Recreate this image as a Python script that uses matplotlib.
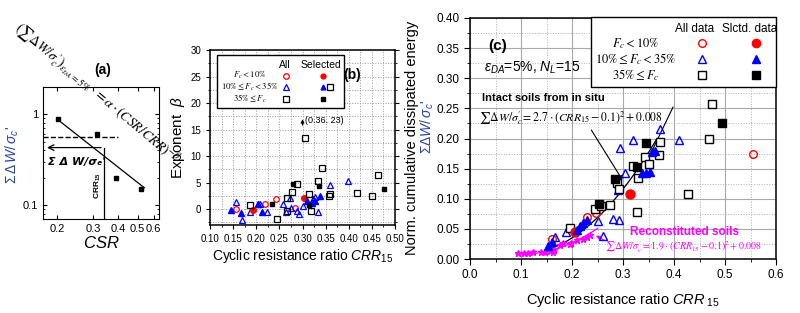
import numpy as np
import matplotlib
matplotlib.use('Agg')
import matplotlib.pyplot as plt
from matplotlib.patches import Rectangle
from matplotlib.ticker import MultipleLocator, FixedLocator, NullFormatter, FormatStrFormatter

plt.rcParams['font.family'] = ['Liberation Sans', 'DejaVu Sans']
plt.rcParams['mathtext.fontset'] = 'custom'
plt.rcParams['mathtext.rm'] = 'Liberation Sans'
plt.rcParams['mathtext.it'] = 'Liberation Sans:italic'
plt.rcParams['mathtext.bf'] = 'Liberation Sans:bold'

RED = '#ff0000'
BLUE = '#0000ff'
MAG = '#ff00ff'
LBLUE = '#2845a0'

# ---- (a) one test, log-log
a_csr = [0.202, 0.313, 0.39, 0.52]
a_w = [0.89, 0.60, 0.20, 0.15]
a_fit_csr = [0.20, 0.54]
a_fit_w = [0.88, 0.155]
a_dash_w = 0.56
a_w15 = 0.43
a_crr15 = 0.34

# ---- (b) exponent beta vs CRR15
b_fc10_x = [0.157, 0.218, 0.243, 0.284]
b_fc10_y = [0.0, 1.0, 1.9, 0.3]
b_fc10s_x = [0.194, 0.304]
b_fc10s_y = [-0.1, 2.1]
b_fc35_x = [0.157, 0.170, 0.186, 0.204, 0.209, 0.224, 0.257, 0.264, 0.274, 0.276,
            0.287, 0.292, 0.301, 0.322, 0.328, 0.333, 0.359, 0.398]
b_fc35_y = [1.4, -2.1, -0.5, 0.9, 1.0, -0.5, 0.9, -0.6, 2.1, 0.3,
            -0.4, -0.9, 0.6, 2.0, 2.2, -0.6, 4.6, 5.4]
b_fc35s_x = [0.145, 0.167, 0.203, 0.212, 0.309, 0.320, 0.326, 0.338]
b_fc35s_y = [-0.2, -0.7, 0.9, -0.5, 1.5, 1.2, 1.6, 2.5]
b_fc100_x = [0.186, 0.244, 0.267, 0.267, 0.277, 0.287, 0.305, 0.315, 0.319, 0.333,
             0.343, 0.357, 0.359, 0.417, 0.450, 0.463, 0.36]
b_fc100_y = [0.7, -1.8, -0.4, 2.1, 3.2, 4.8, 13.4, 2.8, -0.4, 5.3,
             7.8, 2.4, 2.9, 3.0, 2.5, 6.4, 23.0]
b_fc100s_x = [0.235, 0.279, 0.313, 0.335, 0.477]
b_fc100s_y = [1.0, 4.8, 0.85, 4.4, 3.8]

# ---- (c) normalized energy vs CRR15
c_fc10_x = [0.160, 0.229, 0.248, 0.554]
c_fc10_y = [0.033, 0.070, 0.077, 0.175]
c_fc10s_x = [0.206, 0.313]
c_fc10s_y = [0.045, 0.108]
c_fc35_x = [0.167, 0.188, 0.250, 0.260, 0.281, 0.293, 0.291, 0.304, 0.294, 0.320, 0.373, 0.410]
c_fc35_y = [0.036, 0.045, 0.063, 0.039, 0.066, 0.065, 0.114, 0.143, 0.185, 0.197, 0.215, 0.197]
c_fc35s_x = [0.153, 0.160, 0.209, 0.216, 0.222, 0.229, 0.337, 0.346, 0.352, 0.356, 0.363]
c_fc35s_y = [0.022, 0.029, 0.048, 0.054, 0.059, 0.064, 0.142, 0.142, 0.145, 0.178, 0.180]
c_fc100_x = [0.196, 0.245, 0.257, 0.275, 0.288, 0.293, 0.320, 0.327, 0.330, 0.343, 0.350,
             0.371, 0.373, 0.428, 0.469, 0.474]
c_fc100_y = [0.051, 0.083, 0.088, 0.090, 0.126, 0.116, 0.154, 0.078, 0.134, 0.170, 0.158,
             0.172, 0.194, 0.108, 0.200, 0.257]
c_fc100s_x = [0.253, 0.284, 0.327, 0.345, 0.495]
c_fc100s_y = [0.091, 0.132, 0.152, 0.193, 0.226]
c_rec_x = [0.095, 0.105, 0.114, 0.124, 0.140, 0.147, 0.157, 0.163, 0.165, 0.176, 0.183,
           0.196, 0.199, 0.209, 0.222, 0.229, 0.235]
c_rec_y = [0.0095, 0.0095, 0.010, 0.011, 0.012, 0.012, 0.014, 0.012, 0.015, 0.023, 0.026,
           0.025, 0.027, 0.031, 0.034, 0.036, 0.040]
intact_k, intact_range = 2.7, (0.15, 0.365)
recon_k, recon_range = 1.9, (0.09, 0.25)

fig = plt.figure(figsize=(8, 3.13), dpi=100)

# ================= (a)
axa = fig.add_axes([0.054, 0.300, 0.145, 0.422])
axa.set_xscale('log')
axa.set_yscale('log')
axa.set_xlim(0.17, 0.64)
axa.set_ylim(0.07, 2.0)
axa.plot(a_csr, a_w, 's', color='black', ms=3.5)
axa.plot(a_fit_csr, a_fit_w, '-', color='black', lw=0.9)
axa.plot([0.17, 0.40], [a_dash_w, a_dash_w], '--', color='black', lw=1.0)
axa.plot([a_crr15, a_crr15], [a_w15, 0.07], '-', color='black', lw=0.9)
axa.annotate('', xy=(0.172, a_w15), xytext=(a_crr15, a_w15),
             arrowprops=dict(arrowstyle='->', lw=0.9, color='black'))
axa.xaxis.set_major_locator(FixedLocator([0.2, 0.3, 0.4, 0.5, 0.6]))
axa.xaxis.set_major_formatter(FormatStrFormatter('%g'))
axa.xaxis.set_minor_formatter(NullFormatter())
axa.yaxis.set_major_locator(FixedLocator([0.1, 1]))
axa.yaxis.set_major_formatter(FormatStrFormatter('%g'))
axa.yaxis.set_minor_formatter(NullFormatter())
axa.tick_params(which='both', direction='in', top=True, right=True, labelsize=8)
axa.tick_params(which='major', length=3)
axa.tick_params(which='minor', length=1.5)
axa.set_xlabel('$CSR$', fontsize=12, labelpad=1)
axa.text(0.04, 0.41, "Σ Δ W/σₑ'", transform=axa.transAxes, fontsize=8,
         fontweight='bold', style='italic', family=['DejaVu Sans'])
axa.text(0.47, 0.25, r'$\mathbf{CRR_{15}}$', transform=axa.transAxes, fontsize=6,
         rotation=90, ha='center', va='center')
fig.text(103 / 800, 1 - 70 / 313, '(a)', fontsize=10, fontweight='bold', ha='center', va='center')
fig.text(12 / 800, 1 - 155 / 313, r"$\Sigma\,\Delta\,W/\,\sigma_c$'", fontsize=10, color=LBLUE,
         rotation=90, ha='center', va='center')
fig.text(96 / 800, 1 - 94 / 313,
         r"$(\sum\Delta W/\sigma_c^{\prime})_{\varepsilon_{DA}=5\%}\ \ =\alpha\cdot(CSR/CRR)^{-\beta}$",
         fontsize=10, rotation=-40, ha='center', va='center', math_fontfamily='stix')

# ================= (b)
axb = fig.add_axes([0.2625, 0.281, 0.2313, 0.559])
axb.set_xlim(0.10, 0.50)
axb.set_ylim(-3, 30)
axb.xaxis.set_major_locator(MultipleLocator(0.05))
axb.xaxis.set_minor_locator(MultipleLocator(0.025))
axb.xaxis.set_major_formatter(FormatStrFormatter('%.2f'))
axb.yaxis.set_major_locator(MultipleLocator(5))
axb.yaxis.set_minor_locator(MultipleLocator(2.5))
axb.grid(which='both', color='#9a9a9a', ls=':', lw=0.7)
axb.set_axisbelow(True)
axb.tick_params(which='both', direction='out', labelsize=7, right=True)
axb.tick_params(which='major', length=3)
axb.tick_params(which='minor', length=1.5)
for s in axb.spines.values():
    s.set_linewidth(1.1)
ms_b = 4
axb.plot(b_fc10_x, b_fc10_y, 'o', mfc='none', mec=RED, ms=ms_b, mew=0.9, zorder=3)
axb.plot(b_fc35_x, b_fc35_y, '^', mfc='none', mec=BLUE, ms=ms_b, mew=0.9, zorder=3)
axb.plot(b_fc100_x, b_fc100_y, 's', mfc='none', mec='black', ms=ms_b, mew=0.9, zorder=7)
axb.plot(b_fc10s_x, b_fc10s_y, 'o', color=RED, ms=ms_b, zorder=4)
axb.plot(b_fc35s_x, b_fc35s_y, '^', color=BLUE, ms=ms_b, zorder=4)
axb.plot(b_fc100s_x, b_fc100s_y, 's', color='black', ms=ms_b - 0.5, zorder=4)
axb.annotate('', xy=(0.30, 17.5), xytext=(0.30, 15.3),
             arrowprops=dict(arrowstyle='-|>', lw=0.8, color='black', mutation_scale=5))
axb.text(0.305, 16.8, '(0.36. 23)', fontsize=6.5, va='center')
axb.set_xlabel('Cyclic resistance ratio $CRR_{15}$', fontsize=10, labelpad=2)
axb.set_ylabel(r'Exponent  $\beta$', fontsize=11, labelpad=2)
axb.text(0.77, 0.855, '(b)', transform=axb.transAxes, fontsize=10, fontweight='bold',
         ha='center', va='center')
# legend box
axb.add_patch(Rectangle((0.037, 0.669), 0.685, 0.302, transform=axb.transAxes,
                        facecolor='white', edgecolor='black', lw=1.0, zorder=5))
axb.text(0.406, 0.914, 'All', transform=axb.transAxes, fontsize=7.5, ha='center', va='center', zorder=6)
axb.text(0.60, 0.914, 'Selected', transform=axb.transAxes, fontsize=7.5, ha='center', va='center', zorder=6)
b_rows = [r'$F_c<10\%$', r'$10\%\leq F_c<35\%$', r'$35\%\leq F_c$']
b_row_y = [0.853, 0.790, 0.722]
b_styles = [('o', RED), ('^', BLUE), ('s', 'black')]
for lab, yy, (mk, col) in zip(b_rows, b_row_y, b_styles):
    axb.text(0.215, yy, lab, transform=axb.transAxes, fontsize=6.3, ha='center', va='center',
             math_fontfamily='stix', zorder=6)
    axb.plot([0.412], [yy], mk, transform=axb.transAxes, mfc='none', mec=col, ms=ms_b, mew=0.9,
             zorder=6, clip_on=False)
    axb.plot([0.61], [yy], mk, transform=axb.transAxes, color=col, ms=ms_b - 0.5,
             zorder=6, clip_on=False)

# ================= (c)
axc = fig.add_axes([0.5875, 0.1725, 0.3825, 0.770])
axc.set_xlim(0, 0.6)
axc.set_ylim(0, 0.40)
axc.xaxis.set_major_locator(MultipleLocator(0.1))
axc.xaxis.set_minor_locator(MultipleLocator(0.05))
axc.xaxis.set_major_formatter(FormatStrFormatter('%.1f'))
axc.yaxis.set_major_locator(MultipleLocator(0.05))
axc.yaxis.set_minor_locator(MultipleLocator(0.025))
axc.yaxis.set_major_formatter(FormatStrFormatter('%.2f'))
axc.grid(which='major', color='#a8a8a8', ls='-', lw=0.8)
axc.grid(which='minor', color='#b0b0b0', ls=':', lw=0.7)
axc.set_axisbelow(True)
axc.tick_params(which='both', direction='out', labelsize=8.5)
axc.tick_params(which='major', length=4)
axc.tick_params(which='minor', length=2)
for s in axc.spines.values():
    s.set_linewidth(1.1)

xi = np.linspace(*intact_range, 60)
axc.plot(xi, intact_k * (xi - 0.1) ** 2 + 0.008, color='black', lw=0.9, zorder=3)
xr = np.linspace(*recon_range, 60)
axc.plot(xr, recon_k * (xr - 0.1) ** 2 + 0.008, color=MAG, lw=0.9, zorder=3)
axc.plot(c_rec_x, c_rec_y, '*', color=MAG, ms=5, zorder=4)

ms_c = 5.5
axc.plot(c_fc10_x, c_fc10_y, 'o', mfc='none', mec=RED, ms=ms_c, mew=1, zorder=4)
axc.plot(c_fc35_x, c_fc35_y, '^', mfc='none', mec=BLUE, ms=ms_c + 0.5, mew=1, zorder=4)
axc.plot(c_fc100_x, c_fc100_y, 's', mfc='white', mec='black', ms=ms_c, mew=1, zorder=4)
axc.plot(c_fc10s_x, c_fc10s_y, 'o', color=RED, ms=ms_c + 1, zorder=5)
axc.plot(c_fc35s_x, c_fc35s_y, '^', color=BLUE, ms=ms_c + 0.5, zorder=5)
axc.plot(c_fc100s_x, c_fc100s_y, 's', color='black', ms=ms_c, zorder=5)

axc.annotate('', xy=(0.302, 0.127), xytext=(0.235, 0.218),
             arrowprops=dict(arrowstyle='-|>', lw=0.8, color='black', mutation_scale=6))
axc.plot([0.398, 0.347], [0.252, 0.162], color='black', lw=0.8, zorder=3)
axc.annotate('', xy=(0.242, 0.041), xytext=(0.268, 0.029),
             arrowprops=dict(arrowstyle='-|>', lw=0.8, color=MAG, mutation_scale=6))

axc.text(0.035, 0.354, '(c)', fontsize=11, fontweight='bold', va='center')
axc.text(0.122, 0.317, r'$\varepsilon_{DA}$=5%, $N_L$=15', fontsize=10, ha='center', va='center')
axc.text(0.023, 0.267, 'Intact soils from in situ', fontsize=8, fontweight='bold', va='center')
axc.text(0.018, 0.234, r"$\sum\Delta W/\sigma_c^{\prime} = 2.7\cdot(CRR_{15}-0.1)^2+0.008$",
         fontsize=8.5, va='center', math_fontfamily='stix')
axc.text(0.314, 0.045, 'Reconstituted soils', fontsize=8.5, fontweight='bold', color=MAG, va='center')
axc.text(0.265, 0.020, r"$\sum\Delta W/\sigma_c^{\prime} = 1.9\cdot(CRR_{15}-0.1)^2+0.008$",
         fontsize=7.2, va='center', color=MAG, math_fontfamily='stix')

axc.set_xlabel(r'Cyclic resistance ratio $CRR_{\ 15}$', fontsize=10.5, labelpad=7)
fig.text(412 / 800, 1 - 138 / 313, 'Norm. cumulative dissipated energy', fontsize=10.5,
         rotation=90, ha='center', va='center')
fig.text(427 / 800, 1 - 127 / 313, r"$\Sigma\Delta W/\,\sigma_c$'", fontsize=10, color=LBLUE,
         rotation=90, ha='center', va='center')

# legend box
axc.add_patch(Rectangle((0.395, 0.714), 0.605, 0.29, transform=axc.transAxes,
                        facecolor='white', edgecolor='black', lw=1.0, zorder=6, clip_on=False))
axc.text(0.735, 0.954, 'All data', transform=axc.transAxes, fontsize=8.5, ha='center', va='center', zorder=7)
axc.text(0.915, 0.954, 'Slctd. data', transform=axc.transAxes, fontsize=8.5, ha='center', va='center', zorder=7)
c_row_y = [0.895, 0.829, 0.763]
for lab, yy, (mk, col) in zip(b_rows, c_row_y, b_styles):
    axc.text(0.542, yy, lab, transform=axc.transAxes, fontsize=9, ha='center', va='center',
             math_fontfamily='stix', zorder=7)
    axc.plot([0.757], [yy], mk, transform=axc.transAxes, mfc='none', mec=col, ms=5.5, mew=1,
             zorder=7, clip_on=False)
    axc.plot([0.935], [yy], mk, transform=axc.transAxes, color=col, ms=6,
             zorder=7, clip_on=False)

fig.savefig('out.png', dpi=100)
